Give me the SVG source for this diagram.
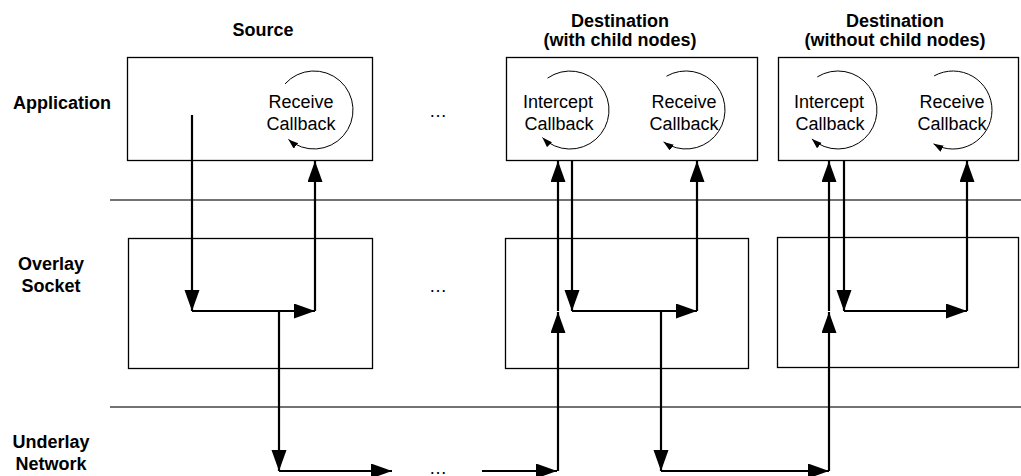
<svg xmlns="http://www.w3.org/2000/svg" width="1021" height="476" viewBox="0 0 1021 476">
<style>
text{font-family:"Liberation Sans",Arial,sans-serif;font-size:18px;fill:#000}
.b{font-weight:bold}
.m{text-anchor:middle}
.box{fill:#fff;stroke:#000;stroke-width:1.3}
.sep{stroke:#444;stroke-width:1.3;fill:none}
.c{stroke:#000;stroke-width:2.2;fill:none;marker-end:url(#ah)}
.arc{stroke:#000;stroke-width:1;fill:none;marker-end:url(#sa)}
</style>
<defs>
<marker id="ah" markerUnits="userSpaceOnUse" markerWidth="22" markerHeight="16" refX="21" refY="7.5" orient="auto">
<path d="M0,0 L21,7.5 L0,15 z" fill="#000"/>
</marker>
<marker id="sa" markerUnits="userSpaceOnUse" markerWidth="10" markerHeight="8" refX="10" refY="3.5" orient="auto">
<path d="M0,0 L10,3.5 L0,7 z" fill="#000"/>
</marker>
</defs>

<g id="separators">
<line class="sep" x1="110" y1="200" x2="1021" y2="200"/>
<line class="sep" x1="110" y1="407" x2="1021" y2="407"/>
</g>

<g id="labels">
<text class="b m" x="263" y="36">Source</text>
<text class="b m" x="620" y="27">Destination</text>
<text class="b m" x="620" y="46">(with child nodes)</text>
<text class="b m" x="895" y="27">Destination</text>
<text class="b m" x="895" y="46">(without child nodes)</text>
<text class="b m" x="62" y="109">Application</text>
<text class="b m" x="51" y="270">Overlay</text>
<text class="b m" x="51" y="292">Socket</text>
<text class="b m" x="51" y="448">Underlay</text>
<text class="b m" x="51" y="470">Network</text>
<text class="m" x="438" y="117">…</text>
<text class="m" x="438" y="292">…</text>
<text class="m" x="438" y="474">…</text>
</g>

<g id="source-app">
<rect class="box" x="127.5" y="57.5" width="245" height="103"/>
<path class="arc" d="M285,83.9 A39,39 0 1 1 288.4,139.4"/>
<text class="m" x="301" y="108">Receive</text>
<text class="m" x="301" y="130">Callback</text>
</g>

<g id="dest1-app">
<rect class="box" x="506.5" y="57.5" width="251" height="103"/>
<path class="arc" d="M547.6,78.1 A39,39 0 1 1 542.4,137.6"/>
<text class="m" x="558" y="108">Intercept</text>
<text class="m" x="559" y="130">Callback</text>
<path class="arc" d="M666.5,76.2 A39,39 0 1 1 663.6,141.9"/>
<text class="m" x="684" y="108">Receive</text>
<text class="m" x="684" y="130">Callback</text>
</g>

<g id="dest2-app">
<rect class="box" x="778.5" y="57.5" width="240" height="103"/>
<path class="arc" d="M817.3,76.9 A39,39 0 1 1 811.9,139"/>
<text class="m" x="829" y="108">Intercept</text>
<text class="m" x="830" y="130">Callback</text>
<path class="arc" d="M934.1,75.9 A39,39 0 1 1 933.5,143.8"/>
<text class="m" x="952" y="108">Receive</text>
<text class="m" x="952" y="130">Callback</text>
</g>

<g id="source-overlay">
<rect class="box" x="128.5" y="238.5" width="244" height="130"/>
</g>
<g id="dest1-overlay">
<rect class="box" x="505.5" y="238.5" width="243" height="130"/>
</g>
<g id="dest2-overlay">
<rect class="box" x="777.5" y="237.5" width="241" height="130"/>
</g>

<g id="connectors">
<path class="c" d="M192,115 V311"/>
<path class="c" d="M192,311 H315"/>
<path class="c" d="M315,311 V161"/>
<path class="c" d="M279,311 V471"/>
<path class="c" d="M279,471 H392"/>
<path class="c" d="M482,471 H557"/>
<path class="c" d="M558,471 V312"/>
<path class="c" d="M558,311 V161"/>
<path class="c" d="M572,161 V311"/>
<path class="c" d="M572,311 H697"/>
<path class="c" d="M697,311 V161"/>
<path class="c" d="M661,311 V471"/>
<path class="c" d="M661,471 H829"/>
<path class="c" d="M829,471 V312"/>
<path class="c" d="M829,311 V161"/>
<path class="c" d="M844,161 V311"/>
<path class="c" d="M844,311 H967"/>
<path class="c" d="M967,311 V161"/>
</g>
</svg>
